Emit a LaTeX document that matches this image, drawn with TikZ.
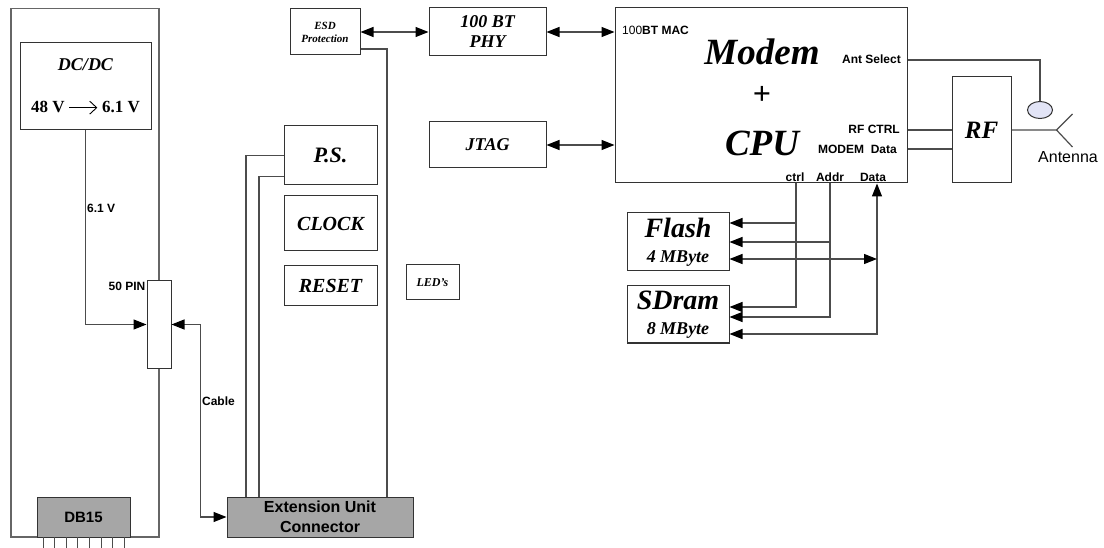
\documentclass[tikz,border=0pt]{standalone}
\usepackage{fontspec}
\setmainfont{Liberation Serif}
\setsansfont{Liberation Sans}
\usetikzlibrary{arrows.meta,shapes.geometric}
\definecolor{antfill}{RGB}{226,228,246}
\newcommand{\fs}[1]{\fontsize{#1}{#1}\selectfont}
\newcommand{\convarrow}{\tikz[baseline=-0.6ex]\draw[line width=0.9pt,-{Straight Barb[length=7pt,width=13pt]}](0pt,0pt)--(28pt,0pt);}
\tikzset{
  blk/.style={draw=black!80, fill=white, line width=1pt, inner sep=0pt, font=\bfseries\itshape},
  gblk/.style={draw=black!80, fill=black!35, line width=1pt, inner sep=0pt, align=center},
  lbl/.style={font=\sffamily\bfseries\fs{12}, inner sep=1pt},
  wire/.style={draw=black!70, line width=1.2pt},
}
\begin{document}
\begin{tikzpicture}[x=1pt,y=-1pt,>={Triangle[length=13pt,width=10pt,color=black]}]
\useasboundingbox (0,0) rectangle (1104,548);
% power unit
\draw[wire,black!60] (11,8.5) rectangle (159,537);
\node[blk,minimum width=131pt,minimum height=87pt,align=center] (dcdc) at (85.5,86.5) {\fs{18}DC/DC\\[30pt]\upshape\fs{17}48 V \convarrow\ 6.1 V};
\node[blk,minimum width=24pt,minimum height=87pt] (pin) at (159,324.5) {};
\node[lbl,anchor=north east] (pinlbl) at (pin.north west) {50 PIN};
\draw[wire,->] (dcdc.south) |- (pin.west) node[lbl,pos=0.2,right] (vlbl) {6.1 V};
\node[gblk,minimum width=93pt,minimum height=40pt,font=\sffamily\bfseries\fs{15}] (db) at (83.5,517) {DB15};
\foreach \i in {0,...,7}
{
    \draw[wire,line width=1pt] ({43+\i*11.6},537) -- ++(0,11);
}
% extension unit
\node[gblk,minimum width=186pt,minimum height=40pt,font=\sffamily\bfseries\fontsize{16}{20}\selectfont] (ext) at (320,517) {Extension Unit\\Connector};
\draw[wire,<->] (pin.east) -- ++(29,0) |- (ext.west) node[lbl,pos=0.2,right] (cbl) {Cable};
\node[blk,minimum width=93pt,minimum height=59pt,font=\bfseries\itshape\fs{22}] (ps) at (330.5,155.5) {P.S.};
\node[blk,minimum width=93pt,minimum height=55pt,font=\bfseries\itshape\fs{20}] (clk) at (330.5,223.5) {CLOCK};
\node[blk,minimum width=93pt,minimum height=40pt,font=\bfseries\itshape\fs{20}] (rst) at (330.5,286) {RESET};
\node[blk,minimum width=53pt,minimum height=35pt,font=\bfseries\itshape\fs{12}] (led) at (432.5,282.5) {LED's};
\node[blk,minimum width=70pt,minimum height=46pt,align=center,font=\bfseries\itshape\fontsize{11}{13}\selectfont] (esd) at (325,32) {ESD\\Protection};
\draw[wire] (ps.west) -| ([xshift=-74pt]ext.north);
\draw[wire] ([yshift=-21pt]ps.west) -| ([xshift=-61pt]ext.north);
\draw[wire] ([yshift=-17pt]esd.east) -| ([xshift=67pt]ext.north);
% modem
\node[blk,minimum width=117pt,minimum height=48pt,align=center,font=\bfseries\itshape\fontsize{18}{20}\selectfont] (phy) at (487.5,32) {100 BT\\PHY};
\node[blk,minimum width=117pt,minimum height=46pt,font=\bfseries\itshape\fs{18}] (jtag) at (487.5,145) {JTAG};
\node[blk,minimum width=292pt,minimum height=175pt] (cpu) at (761,95.5) {};
\draw[wire,<->] (esd) -- (phy);
\draw[wire,<->] (phy.east) -- (phy.east -| cpu.west);
\draw[wire,<->] (jtag.east) -- (jtag.east -| cpu.west);
\node[lbl,anchor=west] (mac) at (621,30) {{\mdseries 100}BT MAC};
\node[font=\bfseries\itshape\fs{37}] (mdm) at (762,52) {Modem};
\node[font=\bfseries\fs{32}] (plus) at (762,95) {+};
\node[font=\bfseries\itshape\fs{37}] (cpulbl) at (762,143) {CPU};
\node[lbl,anchor=east] (antsel) at (902,59) {Ant Select};
\node[lbl,anchor=east] (rfctrl) at (901,129) {RF CTRL};
\node[lbl,anchor=east] (mdata) at (898,149) {MODEM\ \ Data};
\node[lbl] (ctrllbl) at (795,177) {ctrl};
\node[lbl] (addrlbl) at (830,177) {Addr};
\node[lbl] (datalbl) at (873,177) {Data};
% radio
\node[blk,minimum width=59pt,minimum height=106pt,font=\bfseries\itshape\fs{25}] (rf) at (981.5,130) {RF};
\node[ellipse,draw=black!80,fill=antfill,line width=1pt,minimum width=25pt,minimum height=17pt,inner sep=0pt] (ant) at (1040,110) {};
\draw[wire] ([yshift=35.5pt]cpu.east) -| (ant.north);
\draw[wire] (cpu.east |- rf.west) -- (rf.west);
\coordinate (rfd) at ([yshift=-19pt]rf.west);
\draw[wire] (rfd) -- (rfd -| cpu.east);
\draw[wire] (rf.east) -- ++(45,0) coordinate (ap) -- ++(16,-16);
\draw[wire] (ap) -- ++(16,17);
\node[font=\sffamily\fs{16}] (antlbl) at (1068,157) {Antenna};
% memory
\node[blk,minimum width=102pt,minimum height=58pt,align=center] (flash) at (678,242) {\fs{28}Flash\\[12pt]\fs{18}4 MByte};
\node[blk,minimum width=102pt,minimum height=57pt,align=center] (sdram) at (678,314.5) {\fs{28}SDram\\[12pt]\fs{18}8 MByte};
\coordinate (ctl) at ([xshift=35pt]cpu.south);
\coordinate (adr) at ([xshift=69pt]cpu.south);
\coordinate (dbus) at ([xshift=116pt]cpu.south);
\draw[wire,->] (ctl) |- ([yshift=19pt]flash.east);
\draw[wire,->] (ctl) |- ([yshift=7.5pt]sdram.east);
\draw[wire,->] (adr) |- (flash.east);
\draw[wire,->] (adr) |- ([yshift=-2.5pt]sdram.east);
\draw[wire,<->] ([yshift=-19.5pt]sdram.east) -| (dbus);
\coordinate (fld) at ([yshift=-17pt]flash.east);
\draw[wire,<->] (fld) -- (fld -| dbus);
\end{tikzpicture}
\end{document}
